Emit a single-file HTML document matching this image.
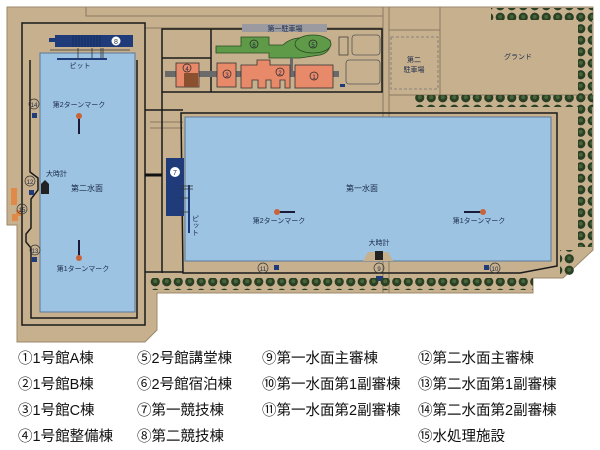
<!DOCTYPE html>
<html><head><meta charset="utf-8"><style>
html,body{margin:0;padding:0;background:#fff;width:600px;height:450px;overflow:hidden}
svg{display:block}
.t{font-family:"Liberation Sans","Noto Sans CJK JP",sans-serif;fill:#1a2a4a}
.lg{font-family:"Liberation Sans","Noto Sans CJK JP",sans-serif;font-size:14.5px;fill:#111}
</style></head><body>
<svg width="600" height="450" viewBox="0 0 600 450" xmlns="http://www.w3.org/2000/svg">
<defs>
<pattern id="tr" width="11.5" height="11.5" patternUnits="userSpaceOnUse">
<circle cx="5.75" cy="5.75" r="4.6" fill="#2a3f24"/><circle cx="5.75" cy="5.2" r="2" fill="#46663a"/>
</pattern>
</defs>
<path d="M7 7 H593 V250 L563 278 H533 V293 H157 V330 L145 342 H17 V225 H7 Z" fill="#c6b08e" stroke="#9c8a6c" stroke-width="1"/>
<g stroke="#8a7a62" stroke-width="1" fill="none">
<path d="M86 7 V16 H383"/><path d="M145 28 H383"/>
<path d="M383 7 V293"/><path d="M389 7 V293"/><path d="M440 7 V95"/>
<path d="M389 30 H440 M389 95 H593"/>
<path d="M150 122 H183 M150 128 H183"/>
</g>
<path d="M22 23 H145 V325 H22 Z" fill="none" stroke="#1a1a1a" stroke-width="1.5"/>
<path d="M30 60 V172 L38 178 V190 L31 199 V228 L26 234 V242 L31 248 V318 H137 V60" fill="none" stroke="#1a1a1a" stroke-width="1.5"/>
<g stroke="#1a1a1a" stroke-width="1.5" fill="none">
<path d="M162 29 H382 V92 H162 Z"/><path d="M162 58 H211 M211 29 V92"/>
<path d="M145 110 H183 M162 92 V273 M145 175 H162"/>
<path d="M145 272 H183"/>
</g>
<path d="M145 175 H162" stroke="#111" stroke-width="3"/>
<rect x="40" y="53" width="95" height="259" fill="#9cc3e2" stroke="#5a7a9a" stroke-width="1"/>
<rect x="55" y="35" width="78" height="12" fill="#1f3b7a"/>
<g stroke="#10254f" stroke-width="0.6"><path d="M73 35V47 M76 35V47 M79 35V47 M82 35V47 M85 35V47 M88 35V47 M91 35V47 M94 35V47 M97 35V47 M100 35V47"/></g>
<rect x="49" y="38" width="7" height="4" fill="#1f3b7a"/>
<rect x="57" y="58" width="50" height="2" fill="#1f3b7a"/>
<g stroke="#333" stroke-width="0.8"><path d="M78 48V58 M92 48V58 M101 48V58 M103 48V58 M50 50 H130"/></g>
<circle cx="116" cy="41" r="4.5" fill="#fff"/><text x="116" y="44" class="t" font-size="7" text-anchor="middle">8</text>
<text x="80" y="68" class="t" font-size="7" text-anchor="middle">ピット</text>
<text x="79" y="107" class="t" font-size="7" text-anchor="middle">第2ターンマーク</text>
<rect x="78" y="117" width="2" height="17" fill="#1a1a3a"/><circle cx="79" cy="116" r="3" fill="#c8643a"/>
<rect x="78" y="240" width="2" height="17" fill="#1a1a3a"/><circle cx="79" cy="258" r="3" fill="#c8643a"/>
<text x="83" y="271" class="t" font-size="7" text-anchor="middle">第1ターンマーク</text>
<text x="87" y="191" class="t" font-size="8" text-anchor="middle">第二水面</text>
<text x="46" y="176" class="t" font-size="7">大時計</text>
<path d="M41 194 V184 L45 180 L49 184 V194 Z" fill="#222"/>
<rect x="32" y="113" width="5" height="5" fill="#1f3b7a"/><circle cx="34" cy="104" r="5" fill="none" stroke="#333" stroke-width="0.7"/><text x="34" y="107" class="t" font-size="6" text-anchor="middle">14</text>
<rect x="29" y="190" width="5" height="5" fill="#1f3b7a"/><circle cx="30" cy="181" r="5" fill="none" stroke="#333" stroke-width="0.7"/><text x="30" y="184" class="t" font-size="6" text-anchor="middle">12</text>
<rect x="32" y="257" width="5" height="5" fill="#1f3b7a"/><circle cx="35" cy="250" r="5" fill="none" stroke="#333" stroke-width="0.7"/><text x="35" y="253" class="t" font-size="6" text-anchor="middle">13</text>
<rect x="11" y="188" width="6" height="17" fill="#e08a4a"/>
<path d="M12 214 H16 V210 H21 V216 H18 V221 H12Z" fill="#e08a4a"/>
<circle cx="22" cy="209" r="5" fill="none" stroke="#333" stroke-width="0.7"/><text x="22" y="212" class="t" font-size="6" text-anchor="middle">15</text>
<path d="M181 113 H557 V266 L520 273 H183 Z" fill="none" stroke="#1a1a1a" stroke-width="1.5"/>
<rect x="185" y="117" width="366" height="144" fill="#9cc3e2" stroke="#5a7a9a" stroke-width="1"/>
<path d="M363 261 L368 252 H388 L393 261 Z" fill="#c6b08e"/>
<rect x="375" y="251" width="8" height="9" fill="#222"/>
<text x="379" y="245" class="t" font-size="7" text-anchor="middle">大時計</text>
<rect x="166" y="158" width="18" height="58" fill="#1f3b7a"/>
<circle cx="175" cy="172" r="5" fill="#fff"/><text x="175" y="175" class="t" font-size="7" text-anchor="middle">7</text>
<rect x="188" y="185" width="2" height="48" fill="#1f3b7a"/>
<g stroke="#333" stroke-width="0.8"><path d="M180 186 H193 M180 189 H193 M180 198 H188 M180 212 H188"/></g>
<text x="195" y="215" class="t" font-size="7" writing-mode="tb">ピット</text>
<text x="362" y="191" class="t" font-size="8" text-anchor="middle">第一水面</text>
<rect x="279" y="211" width="16" height="2" fill="#1a1a3a"/><circle cx="277" cy="212" r="3" fill="#c8643a"/>
<text x="279" y="223" class="t" font-size="7" text-anchor="middle">第2ターンマーク</text>
<rect x="464" y="211" width="17" height="2" fill="#1a1a3a"/><circle cx="483" cy="212" r="3" fill="#c8643a"/>
<text x="479" y="223" class="t" font-size="7" text-anchor="middle">第1ターンマーク</text>
<rect x="274" y="265" width="5" height="5" fill="#1f3b7a"/><circle cx="263" cy="268" r="5" fill="none" stroke="#333" stroke-width="0.7"/><text x="263" y="271" class="t" font-size="6" text-anchor="middle">11</text>
<circle cx="379" cy="268" r="5" fill="none" stroke="#333" stroke-width="0.7"/><text x="379" y="271" class="t" font-size="6" text-anchor="middle">9</text>
<rect x="376" y="276" width="7" height="5" fill="#1f3b7a"/>
<rect x="484" y="265" width="5" height="5" fill="#1f3b7a"/><circle cx="495" cy="268" r="5" fill="none" stroke="#333" stroke-width="0.7"/><text x="495" y="271" class="t" font-size="6" text-anchor="middle">10</text>
<rect x="242" y="24" width="85" height="8" fill="#9a9aa0"/>
<text x="285" y="31" class="t" font-size="7" text-anchor="middle">第一駐車場</text>
<path d="M216 46 H241 V37 H269 V45 H283 Q292 36 310 38 L330 40 Q332 52 320 55 L300 58 H269 V53 H216 Z" fill="#5e9a48" stroke="#2a4a22" stroke-width="0.8"/>
<ellipse cx="313" cy="44" rx="18" ry="9" fill="#5e9a48" stroke="#2a4a22" stroke-width="0.8"/>
<circle cx="254" cy="44" r="4" fill="none" stroke="#222" stroke-width="0.7"/><text x="254" y="47" class="t" font-size="6" text-anchor="middle">6</text>
<circle cx="313" cy="44" r="4" fill="none" stroke="#222" stroke-width="0.7"/><text x="313" y="47" class="t" font-size="6" text-anchor="middle">5</text>
<rect x="339" y="37" width="9" height="18" fill="#c6b08e" stroke="#333" stroke-width="0.7"/>
<rect x="352" y="35" width="28" height="20" rx="3" fill="none" stroke="#555" stroke-width="0.8"/>
<rect x="346" y="60" width="34" height="24" rx="3" fill="none" stroke="#555" stroke-width="0.8"/>
<g fill="#6a6a6a"><rect x="165" y="71" width="11" height="6"/><rect x="199" y="71" width="18" height="6"/><rect x="236" y="71" width="5" height="6"/><rect x="290" y="71" width="5" height="6"/><rect x="333" y="71" width="6" height="6"/><rect x="290" y="58" width="3" height="13"/></g>
<rect x="176" y="63" width="23" height="24" fill="#e8896a" stroke="#333" stroke-width="0.8"/>
<rect x="184" y="73" width="14" height="14" fill="#8a5030"/>
<circle cx="187" cy="68" r="4" fill="none" stroke="#222" stroke-width="0.7"/><text x="187" y="71" class="t" font-size="6" text-anchor="middle">4</text>
<rect x="217" y="63" width="19" height="24" fill="#e8896a" stroke="#333" stroke-width="0.8"/>
<circle cx="227" cy="74" r="4" fill="none" stroke="#222" stroke-width="0.7"/><text x="227" y="77" class="t" font-size="6" text-anchor="middle">3</text>
<path d="M241 65 H257 V60 H270 V65 H290 V88 H285 V80 H280 V88 H271 V80 H266 V88 H258 V80 H252 V88 H241 Z" fill="#e8896a" stroke="#333" stroke-width="0.8"/>
<circle cx="280" cy="72" r="4" fill="none" stroke="#222" stroke-width="0.7"/><text x="280" y="75" class="t" font-size="6" text-anchor="middle">2</text>
<rect x="295" y="65" width="38" height="23" fill="#e8896a" stroke="#333" stroke-width="0.8"/>
<circle cx="314" cy="76" r="4" fill="none" stroke="#222" stroke-width="0.7"/><text x="314" y="79" class="t" font-size="6" text-anchor="middle">1</text>
<rect x="340" y="84" width="5" height="3" fill="#1f3b7a"/>
<rect x="391" y="37" width="47" height="52" fill="#c6b08e" stroke="#777" stroke-width="0.8" stroke-dasharray="3 2"/>
<text x="414" y="62" class="t" font-size="7" text-anchor="middle">第二</text>
<text x="414" y="72" class="t" font-size="7" text-anchor="middle">駐車場</text>
<text x="518" y="59" class="t" font-size="7" text-anchor="middle">グランド</text>
<rect x="491" y="8" width="102" height="12" fill="url(#tr)"/>
<rect x="578" y="20" width="14" height="80" fill="url(#tr)"/>
<rect x="414" y="95" width="179" height="12" fill="url(#tr)"/>
<rect x="578" y="107" width="14" height="140" fill="url(#tr)"/>
<rect x="560" y="250" width="15" height="25" fill="url(#tr)"/>
<rect x="150" y="278" width="383" height="12" fill="url(#tr)"/>
<g class="lg">
<text x="18" y="363">①1号館A棟</text><text x="18" y="389">②1号館B棟</text><text x="18" y="415">③1号館C棟</text><text x="18" y="441">④1号館整備棟</text>
<text x="137" y="363">⑤2号館講堂棟</text><text x="137" y="389">⑥2号館宿泊棟</text><text x="137" y="415">⑦第一競技棟</text><text x="137" y="441">⑧第二競技棟</text>
<text x="262" y="363">⑨第一水面主審棟</text><text x="262" y="389">⑩第一水面第1副審棟</text><text x="262" y="415">⑪第一水面第2副審棟</text>
<text x="418" y="363">⑫第二水面主審棟</text><text x="418" y="389">⑬第二水面第1副審棟</text><text x="418" y="415">⑭第二水面第2副審棟</text><text x="418" y="441">⑮水処理施設</text>
</g>
</svg>
</body></html>
